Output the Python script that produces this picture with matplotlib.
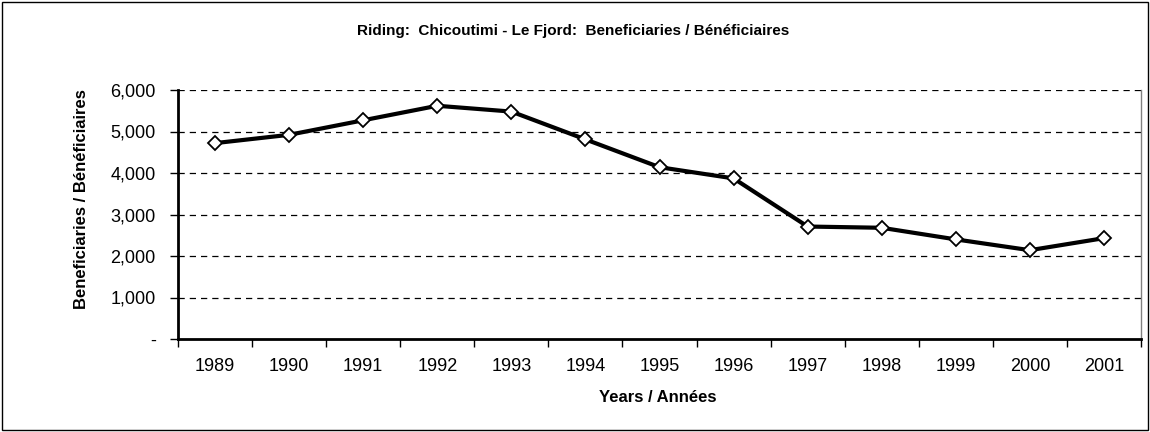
import numpy as np
import matplotlib.pyplot as plt
from matplotlib.patches import Rectangle
from matplotlib.ticker import FuncFormatter, FixedLocator

years = ["1989", "1990", "1991", "1992", "1993", "1994", "1995",
         "1996", "1997", "1998", "1999", "2000", "2001"]
beneficiaries = [4720, 4920, 5270, 5620, 5480, 4810, 4140,
                 3870, 2710, 2680, 2400, 2140, 2430]
y_ticks = [0, 1000, 2000, 3000, 4000, 5000, 6000]

plt.rcParams['font.family'] = ['Liberation Sans', 'DejaVu Sans']

fig = plt.figure(figsize=(11.5, 4.32), dpi=100)
ax = fig.add_axes([178 / 1150, 1 - 339 / 432, 963 / 1150, 249 / 432])

# outer frame around the whole chart
fig.patches.append(Rectangle((2 / 1150, 2 / 432), 1 - 4 / 1150, 1 - 4 / 432,
                             transform=fig.transFigure, fill=False,
                             edgecolor="black", linewidth=1))

x = np.arange(len(years))
ax.plot(x, beneficiaries, color="black", linewidth=3, marker="D",
        markersize=7, markerfacecolor="white", markeredgecolor="black",
        markeredgewidth=1.3, zorder=3)

ax.set_xlim(-0.5, len(years) - 0.5)
ax.set_ylim(0, 6000)
ax.set_yticks(y_ticks)
ax.yaxis.set_major_formatter(FuncFormatter(lambda v, p: "-" if v == 0 else f"{int(v):,}"))
for v in y_ticks[1:]:
    ax.axhline(v, color="black", linewidth=0.9, linestyle=(0, (5, 4)), zorder=1)

ax.xaxis.set_major_locator(FixedLocator(np.arange(len(years) + 1) - 0.5))
ax.set_xticklabels([])
ax.xaxis.set_minor_locator(FixedLocator(x))
ax.set_xticklabels(years, minor=True)
ax.tick_params(axis="x", which="major", length=6, width=1, direction="out")
ax.tick_params(axis="x", which="minor", length=0, pad=14, labelsize=13)
ax.tick_params(axis="y", length=6, width=1, labelsize=13, pad=10)

for s in ["left", "bottom"]:
    ax.spines[s].set_linewidth(2)
ax.spines["top"].set_visible(False)
ax.spines["right"].set_color("#808080")
ax.spines["right"].set_linewidth(1)

fig.text(658 / 1150, 1 - 398 / 432, "Years / Années", ha="center", va="center",
         fontsize=12, fontweight="bold")
fig.text(82 / 1150, 1 - 199 / 432, "Beneficiaries / Bénéficiaires", ha="center",
         va="center", rotation=90, fontsize=12, fontweight="bold")
fig.text(573 / 1150, 1 - 31 / 432, "Riding:  Chicoutimi - Le Fjord:  Beneficiaries / Bénéficiaires",
         ha="center", va="center", fontsize=11, fontweight="bold")

fig.savefig("out.png", dpi=100)
